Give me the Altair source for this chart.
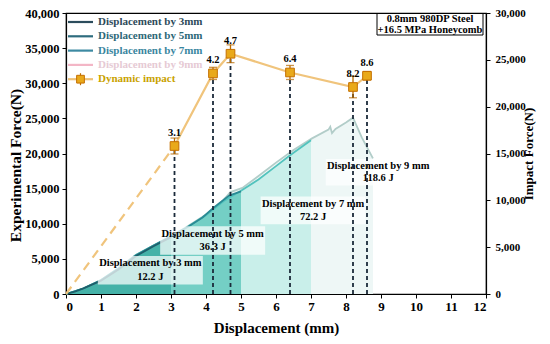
import altair as alt
import pandas as pd

FONT = "Liberation Serif"

# ---------------- data ----------------
# quasi-static force-displacement curves (left axis, N)
d3 = [0, 0.25, 0.5, 1.0, 1.5, 2.0, 2.5, 3.0]
f3 = [0, 350, 800, 1900, 3500, 5400, 6800, 8100]

d5 = [0, 0.5, 1.0, 1.5, 2.0, 2.5, 3.0, 3.5, 3.9, 4.2, 4.66, 5.0]
f5 = [0, 780, 1950, 3600, 5500, 6900, 8200, 9600, 10900, 12200, 14000, 14600]

d7 = [0, 0.5, 1.0, 1.5, 2.0, 2.5, 3.0, 3.5, 4.0, 4.5, 5.0, 5.5, 6.0, 6.31, 6.5, 7.0]
f7 = [0, 800, 2000, 3650, 5550, 6900, 8200, 9650, 11200, 13200, 14700, 16300, 18200, 19400, 20100, 21900]

d9 = [0, 0.5, 1.0, 1.5, 2.0, 2.5, 3.0, 3.5, 4.0, 4.5, 4.7, 5.04, 5.5, 6.0, 6.5, 7.03, 7.5,
      7.55, 7.6, 7.7, 8.0, 8.2, 8.45, 8.77]
f9 = [0, 800, 2000, 3700, 5600, 6900, 8200, 9700, 11300, 13400, 14500, 15100, 16800, 18700,
      20500, 22150, 23400, 23800, 22900, 23500, 24400, 25100, 22300, 19300]

# energy annotations
box_names = ["Displacement by 3 mm", "Displacement by 5 mm", "Displacement by 7 mm", "Displacement by 9 mm"]
box_energy = ["12.2 J", "36.3 J", "72.2 J", "118.6 J"]
box_x = [2.41, 4.19, 7.06, 8.92]
box_y1 = [4370, 8590, 12820, 18170]
box_y2 = [2390, 6620, 10990, 16480]

# dynamic impact (right axis, N)
imp_disp = [3.1, 4.2, 4.7, 6.4, 8.2, 8.6]
imp_force = [15800, 23550, 25650, 23650, 22100, 23300]
imp_err = [850, 650, 950, 750, 1150, 450]
imp_label = ["3.1", "4.2", "4.7", "6.4", "8.2", "8.6"]

legend_labels = ["Displacement by 3mm", "Displacement by 5mm", "Displacement by 7mm",
                 "Displacement by 9mm", "Dynamic impact"]
legend_line_colors = ["#2b4c5c", "#2e6c7e", "#3d8aa2", "#f3b6c6", "#eec27a"]
legend_text_colors = ["#2d4a5a", "#2d6878", "#3a86a0", "#e6cad4", "#c9a200"]

info_lines = ["0.8mm 980DP Steel", "+16.5 MPa Honeycomb"]

# ---------------- colours ----------------
line_cols = {"3": "#1e5f6b", "5": "#2a8a94", "7": "#52c3bd", "9": "#b2cdc9"}
area_cols = {"3": "#45b2a8", "5": "#74cfc5", "7": "#c9efea", "9": "#eef7f6"}
ORANGE_LINE = "#f0c47c"

PLOT_W = 420
PLOT_H = 281

# ---------------- scales / axes ----------------
xscale = alt.Scale(domain=[0, 12], nice=False, zero=False)
xaxis = alt.Axis(title="Displacement (mm)", values=list(range(0, 13)), format="d",
                 labelFontSize=13, titleFontSize=15, tickSize=4, labelPadding=2, titlePadding=7)
ylscale = alt.Scale(domain=[0, 40000], nice=False)
ylaxis = alt.Axis(title="Experimental Force(N)", values=list(range(0, 40001, 5000)), format=",d",
                  labelFontSize=12.5, titleFontSize=15.5, tickSize=4, labelPadding=3, titlePadding=1,
                  titleY=152)
yrscale = alt.Scale(domain=[0, 30000], nice=False)
yraxis = alt.Axis(title="Impact Force(N)", orient="right", values=list(range(0, 30001, 5000)),
                  format=",d", labelFontSize=11, titleFontSize=13, titleAngle=270, tickSize=4,
                  labelPadding=5, titlePadding=10)


def X(f):
    return alt.X(f"{f}:Q", scale=xscale, axis=xaxis)


def YL(f):
    return alt.Y(f"{f}:Q", scale=ylscale, axis=ylaxis)


def YR(f):
    return alt.Y(f"{f}:Q", scale=yrscale, axis=yraxis)


curves = {"3": (d3, f3), "5": (d5, f5), "7": (d7, f7), "9": (d9, f9)}

left_layers = []
for k in ["9", "7", "5", "3"]:
    dd, ff = curves[k]
    df = pd.DataFrame({"d": dd, "f": ff})
    left_layers.append(alt.Chart(df).mark_area(color=area_cols[k], opacity=1).encode(x=X("d"), y=YL("f")))
for k in ["9", "7", "5", "3"]:
    dd, ff = curves[k]
    df = pd.DataFrame({"d": dd, "f": ff})
    left_layers.append(alt.Chart(df).mark_line(color=line_cols[k], strokeWidth=1.8).encode(x=X("d"), y=YL("f")))

boxes = pd.DataFrame({"d": box_x, "f": box_y1, "f2": box_y2, "name": box_names, "en": box_energy})
left_layers.append(
    alt.Chart(boxes).transform_calculate(
        x0="datum.d - 1.5", x1="datum.d + 1.5", y0="datum.f2 - 1050", y1="datum.f + 1050"
    ).mark_rect(color="white", opacity=0.72).encode(x=X("x0"), x2="x1:Q", y=YL("y0"), y2="y1:Q")
)
left_layers.append(
    alt.Chart(boxes).mark_text(font=FONT, fontWeight="bold", fontSize=10.5, color="black")
    .encode(x=X("d"), y=YL("f"), text="name:N")
)
left_layers.append(
    alt.Chart(boxes).mark_text(font=FONT, fontWeight="bold", fontSize=10.5, color="black")
    .encode(x=X("d"), y=YL("f2"), text="en:N")
)

# manual legend (pixel layout)
one = pd.DataFrame({"a": [0]})
for i, lab in enumerate(legend_labels):
    py = 9 + i * 14.3
    left_layers.append(
        alt.Chart(one).mark_rule(color=legend_line_colors[i], strokeWidth=2.2)
        .encode(x=alt.value(2), x2=alt.value(27), y=alt.value(py))
    )
    left_layers.append(
        alt.Chart(one).mark_text(font=FONT, fontWeight="bold", fontSize=11, align="left",
                                 baseline="middle", color=legend_text_colors[i])
        .encode(x=alt.value(32), y=alt.value(py), text=alt.value(lab))
    )
    if i == len(legend_labels) - 1:
        left_layers.append(
            alt.Chart(one).mark_rule(color="#c07000", strokeWidth=1.2)
            .encode(x=alt.value(14.5), y=alt.value(py - 6), y2=alt.value(py + 6))
        )
        left_layers.append(
            alt.Chart(one).mark_square(size=60, fill="#e9a91a", stroke="#c46f00", strokeWidth=1, opacity=1)
            .encode(x=alt.value(14.5), y=alt.value(py))
        )

left = alt.layer(*left_layers)

# ---------------- right group ----------------
imp = pd.DataFrame({"d": imp_disp, "f": imp_force, "err": imp_err, "lab": imp_label})
base = alt.Chart(imp).transform_calculate(lo="datum.f - datum.err", hi="datum.f + datum.err", zero="0")

origin = pd.DataFrame({"d": [0, imp_disp[0]], "f": [0, imp_force[0]]})

right_layers = [
    base.mark_rule(strokeDash=[4, 3], strokeWidth=1.8, color="#1b2a3a")
    .encode(x=X("d"), y=YR("zero"), y2="f:Q"),
    alt.Chart(origin).mark_line(color=ORANGE_LINE, strokeWidth=2.2, strokeDash=[9, 6])
    .encode(x=X("d"), y=YR("f")),
    base.mark_line(color=ORANGE_LINE, strokeWidth=2.2).encode(x=X("d"), y=YR("f")),
    base.mark_rule(color="#b86a00", strokeWidth=1.3).encode(x=X("d"), y=YR("lo"), y2="hi:Q"),
    base.mark_tick(orient="horizontal", color="#b86a00", size=8, thickness=1.3)
    .encode(x=X("d"), y=YR("lo")),
    base.mark_tick(orient="horizontal", color="#b86a00", size=8, thickness=1.3)
    .encode(x=X("d"), y=YR("hi")),
    base.mark_square(size=75, fill="#e9a91a", stroke="#c46f00", strokeWidth=1, opacity=1)
    .encode(x=X("d"), y=YR("f")),
    base.mark_text(font=FONT, fontWeight="bold", fontSize=10.5, color="black", dy=-13)
    .encode(x=X("d"), y=YR("f"), text="lab:N"),
]

# info box (pixel layout)
right_layers.append(
    alt.Chart(one).mark_rect(fill="white", stroke="black", strokeWidth=1)
    .encode(x=alt.value(311), x2=alt.value(417), y=alt.value(0.5), y2=alt.value(22))
)
for j, t in enumerate(info_lines):
    right_layers.append(
        alt.Chart(one).mark_text(font=FONT, fontWeight="bold", fontSize=10.5, color="black",
                                 baseline="middle")
        .encode(x=alt.value(364), y=alt.value(5.5 + j * 11), text=alt.value(t))
    )

right = alt.layer(*right_layers)

chart = (
    alt.layer(left, right)
    .resolve_scale(y="independent")
    .properties(
        width=PLOT_W,
        height=PLOT_H,
        padding={"left": 58, "top": 5, "right": 56, "bottom": 42},
        autosize=alt.AutoSizeParams(type="none"),
        background="white",
    )
    .configure_view(stroke="black", strokeWidth=1.2)
    .configure_axis(
        grid=False,
        labelFont=FONT,
        titleFont=FONT,
        labelFontWeight="bold",
        titleFontWeight="bold",
        labelColor="black",
        titleColor="black",
        domainColor="black",
        tickColor="black",
        domainWidth=1.2,
    )
)

chart.save("out.html", embed_options={"renderer": "svg", "actions": False})
